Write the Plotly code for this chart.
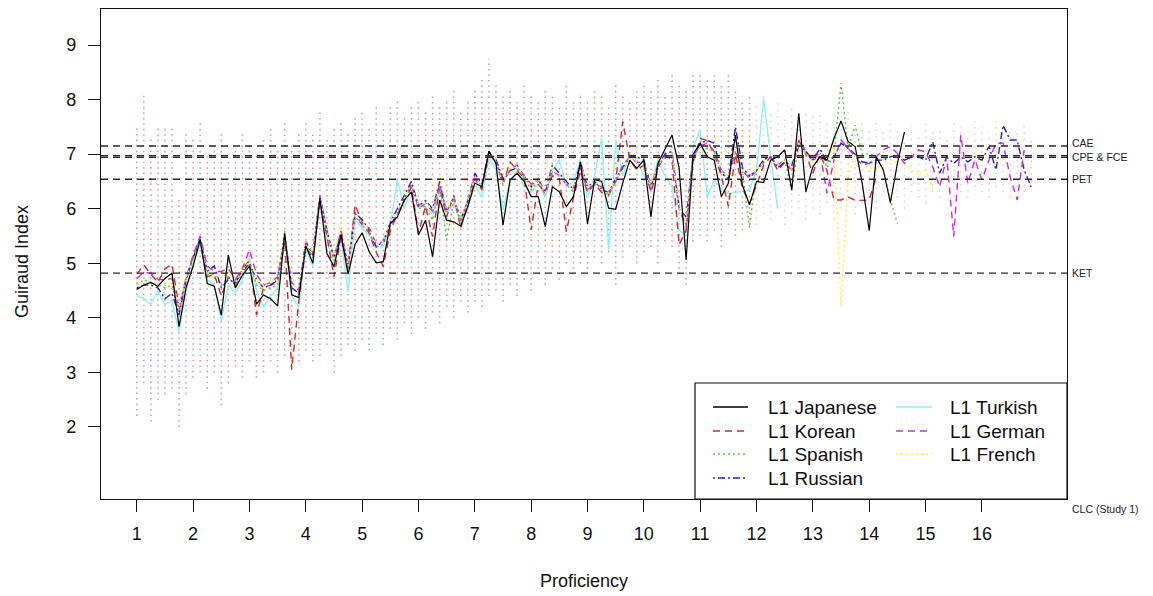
import plotly.graph_objects as go

# Proficiency: 16 levels x 8 units each
proficiency = [1 + i / 8 for i in range(128)]

japanese = [4.52,4.60,4.65,4.58,4.72,4.82,3.84,4.55, 4.95,5.43,4.63,4.58,4.05,5.15,4.55,4.78,
            4.95,4.25,4.42,4.35,4.22,5.55,4.42,4.37, 5.32,5.00,6.19,5.18,4.94,5.52,4.80,5.35,
            5.56,5.21,5.01,5.03,5.73,5.85,6.16,6.31, 5.52,5.79,5.12,6.16,5.79,5.76,5.68,6.04,
            6.47,6.40,7.05,6.83,5.70,6.53,6.65,6.50, 6.22,6.22,5.67,6.40,6.31,6.04,6.22,6.86,
            5.72,6.53,6.50,6.01,5.99,6.47,6.89,6.74, 6.89,5.85,6.83,7.08,7.35,6.75,5.06,7.00,
            7.20,6.95,6.89,6.22,6.47,7.35,6.43,6.07, 6.50,6.48,6.89,6.95,7.08,6.34,7.75,6.31,
            6.77,6.95,6.89,7.29,7.61,7.23,7.14,6.47, 5.60,6.95,6.71,6.11,6.83,7.41]

korean = [4.80,4.97,4.80,4.65,4.90,4.98,4.20,4.70, 5.10,5.40,4.75,4.80,4.40,4.75,4.60,4.90,
          5.05,4.05,4.55,4.60,4.65,5.45,3.05,4.30, 5.30,5.10,6.15,5.50,4.75,5.50,4.90,6.07,
          5.75,5.55,5.20,4.94,5.60,5.90,6.15,6.40, 5.55,6.05,5.49,6.40,5.85,6.25,5.64,6.10,
          6.55,6.35,7.00,6.85,6.45,6.86,6.70,6.55, 5.61,6.45,6.30,6.60,6.55,5.58,6.20,6.70,
          6.30,6.45,6.30,6.25,6.50,7.60,6.90,6.71, 6.80,6.30,6.75,6.98,6.90,5.34,5.60,6.85,
          7.29,7.25,7.00,6.60,6.04,7.00,6.37,6.10, 6.43,6.80,6.95,6.70,6.85,6.70,7.25,7.00,
          6.65,7.00,6.70,6.16,6.16,6.22,6.15,6.16, 6.16,6.59]

spanish = [4.60,4.70,4.65,4.60,4.55,4.60,4.10,4.70, 5.10,5.45,4.80,4.80,4.60,4.75,4.60,4.80,
           5.05,4.60,4.50,4.55,4.60,5.60,4.55,4.45, 5.35,5.10,6.20,5.55,5.05,5.60,4.90,5.85,
           5.70,5.55,5.30,5.35,5.70,5.90,6.15,6.45, 6.00,6.05,5.79,6.40,5.43,6.15,5.75,6.10,
           6.60,6.40,7.05,6.85,6.50,6.70,6.75,6.55, 6.35,6.50,6.25,6.70,6.60,6.45,6.30,6.80,
           6.35,6.45,6.35,6.25,6.50,6.75,6.95,6.85, 6.85,6.40,6.80,6.95,7.00,6.00,5.70,6.90,
           7.15,7.10,7.05,6.65,6.55,7.05,6.70,5.65, 6.70,6.90,6.95,6.80,6.90,6.34,7.20,7.00,
           6.90,7.10,6.75,7.00,8.30,7.10,7.53,7.00, 7.01,6.95,6.71,6.16,5.73]

russian = [4.55,4.60,4.60,4.55,4.35,4.45,4.05,4.70, 5.10,5.45,4.85,4.95,4.55,4.70,4.65,4.85,
           5.00,4.70,4.55,4.60,4.70,5.50,4.55,4.45, 5.40,5.15,6.22,5.60,5.10,5.55,4.95,5.92,
           5.80,5.60,5.30,5.40,5.75,6.00,6.25,6.50, 6.05,6.15,6.00,6.50,5.95,6.20,5.80,6.15,
           6.65,6.45,7.05,6.90,6.55,6.70,6.75,6.60, 6.40,6.55,6.30,6.80,6.65,6.50,6.35,6.85,
           6.40,6.50,6.35,6.30,6.55,6.75,6.95,6.95, 6.90,6.40,6.80,7.00,7.05,6.00,5.85,6.95,
           7.20,7.25,7.20,6.65,6.55,7.50,6.75,6.60, 6.70,6.90,6.95,6.75,6.85,6.80,7.15,7.05,
           6.90,7.10,6.85,6.95,7.20,7.11,7.00,6.86, 6.83,6.89,6.89,6.95,6.98,6.89,6.95,6.95,
           6.89,7.23,6.65,6.95,6.83,6.95,6.86,6.95, 6.89,7.14,6.71,7.53,7.26,7.26,6.71,6.40]

turkish = [4.40,4.35,4.25,4.50,4.25,4.30,3.75,4.50, 5.00,5.35,4.70,4.60,3.95,4.60,4.45,4.70,
           5.10,4.50,4.20,4.40,4.55,5.40,4.40,4.20, 5.25,4.95,6.10,5.40,5.00,5.45,4.48,5.80,
           5.65,5.50,5.30,5.30,5.70,6.53,6.00,6.40, 6.10,6.00,5.90,6.30,5.90,6.10,5.75,6.00,
           6.45,6.20,6.95,6.70,5.98,6.50,6.70,6.40, 6.30,6.45,6.20,6.70,6.90,6.40,6.50,6.90,
           6.20,6.60,7.30,5.24,7.25,6.60,7.00,6.90, 6.60,6.40,6.90,6.60,6.40,5.61,5.50,7.14,
           7.44,6.22,6.53,6.35,6.28,6.30,6.31,6.35, 6.70,8.02,6.95,6.00]

german = [4.72,4.83,4.82,4.70,4.70,4.72,4.15,4.75, 5.15,5.50,4.95,4.85,4.85,4.90,4.70,4.90,
          5.25,4.80,4.60,4.65,4.75,5.45,4.65,4.50, 5.40,5.20,6.25,5.60,5.10,5.60,4.95,5.92,
          5.70,5.65,5.35,5.40,5.70,5.90,6.20,6.45, 6.00,6.10,5.95,6.45,5.95,6.20,5.80,6.15,
          6.60,6.40,7.00,6.85,6.50,6.70,6.80,6.60, 6.45,6.55,6.25,6.70,6.60,6.45,6.35,6.75,
          6.35,6.45,6.40,6.30,6.50,6.80,6.95,6.85, 6.85,6.35,6.80,6.95,7.00,6.00,5.67,6.95,
          7.15,7.20,7.05,6.70,6.60,7.05,6.70,6.55, 6.70,6.85,6.95,6.80,6.90,6.70,7.26,7.05,
          6.85,7.05,6.28,6.90,7.26,7.11,6.95,6.80, 6.83,6.95,7.08,7.14,7.01,6.83,6.95,7.08,
          7.04,6.77,6.40,6.95,5.49,7.35,6.46,6.90, 6.53,6.89,7.20,7.20,6.59,6.16,7.08]

french = [4.60,4.65,4.55,4.70,4.60,4.65,4.20,4.75, 5.05,5.40,4.85,4.75,4.70,4.85,4.65,4.85,
          5.05,4.70,4.55,4.70,4.65,5.50,4.60,4.55, 5.40,5.20,6.20,5.60,5.10,5.79,4.95,5.90,
          5.75,5.60,5.35,5.40,5.75,5.95,6.20,6.45, 6.05,6.10,6.00,6.65,5.95,6.20,5.80,6.15,
          6.60,6.40,7.00,6.85,6.45,6.75,6.75,6.60, 6.40,6.55,6.25,6.75,6.60,6.45,6.35,6.80,
          6.40,6.50,6.35,6.30,6.55,6.70,6.95,6.85, 6.85,6.40,6.80,6.95,7.00,6.00,5.75,6.90,
          7.15,7.15,7.00,6.70,6.60,7.10,6.70,6.60, 6.70,6.85,6.90,6.80,6.90,6.70,7.20,7.00,
          6.85,7.00,6.80,7.20,4.20,6.60,7.00,6.80, 6.75,6.70,6.85,6.90,6.85,6.80,6.71,6.62,
          6.71,6.34]

# spread of individual learner scores at each unit (low / high end of the dot columns)
dot_lo = [2.2,2.8,2.1,2.5,2.6,2.7,2.0,2.6, 2.9,3.0,2.7,3.0,2.4,2.8,3.1,2.9,
          3.2,2.9,3.0,3.2,3.0,3.3,3.1,3.2, 3.4,3.2,3.3,3.5,3.0,3.3,3.5,3.4,
          3.6,3.4,3.7,3.5,3.8,3.6,3.9,3.7, 4.0,3.8,4.1,3.9,4.2,4.0,4.3,4.1,
          4.3,4.2,4.4,4.5,4.3,4.6,4.4,4.7, 4.5,4.8,4.6,4.9,4.7,5.0,4.8,5.0,
          4.9,5.1,5.0,5.2,4.6,5.1,5.3,5.0, 5.2,5.3,5.0,5.4,5.3,4.8,4.6,5.4,
          5.5,5.4,5.6,5.3,5.7,5.5,5.6,5.8, 5.7,5.9,5.8,6.0,5.7,5.9,6.0,5.8,
          6.0,5.9,6.1,5.8,6.0,6.2,5.9,6.1, 6.2,6.0,6.3,6.1,6.2,6.0,6.3,6.2,
          6.1,6.3,6.2,6.4,6.1,6.3,6.2,6.4, 6.3,6.2,6.4,6.3,6.2,6.4,6.3,6.5]
dot_hi = [7.5,8.1,7.3,7.5,7.5,7.5,6.2,7.4, 7.3,7.6,7.0,7.2,7.4,6.9,7.1,7.4,
          7.2,7.0,7.3,7.5,7.1,7.6,7.2,7.4, 7.6,7.4,7.8,7.3,7.5,7.6,7.4,7.7,
          7.8,7.5,7.9,7.6,7.9,8.0,7.7,7.9, 8.0,7.8,8.1,7.9,8.0,8.2,7.8,8.0,
          8.2,8.4,8.75,8.3,8.1,8.2,8.0,8.3, 8.1,8.0,8.2,8.1,7.9,8.3,8.0,8.1,
          8.0,8.2,8.1,7.9,8.3,8.1,8.0,8.2, 8.3,8.2,8.4,8.1,8.5,8.3,8.2,8.5,
          8.5,8.4,8.5,8.3,8.5,8.2,8.0,8.1, 7.9,8.1,7.8,8.0,7.7,7.9,7.6,7.8,
          7.7,7.8,7.6,7.9,7.7,7.8,7.5,7.6, 7.5,7.6,7.4,7.6,7.5,7.3,7.5,7.4,
          7.6,7.4,7.5,7.3,7.6,7.5,7.4,7.6, 7.5,7.4,7.6,7.3,7.5,7.4,7.6,7.3]

exam_names = ["CAE", "CPE", "FCE", "PET", "KET"]
exam_values = [7.15, 6.97, 6.94, 6.54, 4.82]

x_ticks = list(range(1, 17))
y_ticks = list(range(2, 10))

FONT = "Liberation Sans, Arial, sans-serif"
L, R, T, B = 101, 86, 9, 97
W, H = 1153, 596
PW, PH = W - L - R, H - T - B


def px(xp):
    return (xp - L) / PW


def py(yp):
    return (H - B - yp) / PH


fig = go.Figure()


def column_trace(ks, opacity, color, dash):
    xs, ys = [], []
    for k in ks:
        xs += [proficiency[k], proficiency[k], None]
        ys += [dot_lo[k], dot_hi[k], None]
    return go.Scatter(x=xs, y=ys, mode="lines", hoverinfo="skip", showlegend=False,
                      opacity=opacity, line=dict(color=color, width=1.5, dash=dash))


fig.add_trace(column_trace(range(0, 88), 0.5, "#d02424", "1.5px,4px"))
fig.add_trace(column_trace(range(0, 88), 0.35, "#70e8f0", "1.5px,9px"))
fig.add_trace(column_trace(range(88, 128), 0.25, "#d02424", "1.5px,5px"))

series = [
    ("L1 Turkish", turkish, "#8ef2f2", "solid", 1.4),
    ("L1 Korean", korean, "#d8262a", "7px,5px", 1.4),
    ("L1 Spanish", spanish, "#5cc048", "2px,3px", 1.4),
    ("L1 Russian", russian, "#2020d0", "2px,3px,7px,3px", 1.4),
    ("L1 German", german, "#c32ee0", "7px,5px", 1.4),
    ("L1 French", french, "#f4f04a", "2px,3px", 1.4),
    ("L1 Japanese", japanese, "#000000", "solid", 1.2),
]
for name, vals, color, dash, wd in series:
    fig.add_trace(go.Scatter(x=proficiency[:len(vals)], y=vals, mode="lines", name=name,
                             showlegend=False, line=dict(color=color, width=wd, dash=dash)))

shapes = []
for v in exam_values:
    shapes.append(dict(type="line", xref="x domain", x0=0, x1=1, yref="y", y0=v, y1=v,
                       line=dict(color="#2a2a2a", width=1.4, dash="7px,5px"), layer="above"))

annotations = []
label_pos = [("CAE", 7.15, 3), ("CPE & FCE", 6.955, 0), ("PET", 6.54, 0), ("KET", 4.82, 0)]
for text, v, ys in label_pos:
    annotations.append(dict(text=text, xref="paper", x=px(1070), yref="y", y=v, yshift=ys,
                            xanchor="left", yanchor="middle", showarrow=False,
                            font=dict(family=FONT, size=10.5, color="#222")))
annotations.append(dict(text="CLC (Study 1)", xref="paper", x=px(1070), yref="paper", y=py(509),
                        xanchor="left", yanchor="middle", showarrow=False,
                        font=dict(family=FONT, size=10.5, color="#222")))
annotations.append(dict(text="Guiraud Index", xref="paper", x=px(22), yref="paper", y=py(262),
                        textangle=-90, showarrow=False, xanchor="center", yanchor="middle",
                        font=dict(family=FONT, size=18, color="#111")))
annotations.append(dict(text="Proficiency", xref="paper", x=0.5, yref="paper", y=py(581),
                        showarrow=False, xanchor="center", yanchor="middle",
                        font=dict(family=FONT, size=18, color="#111")))

# manual legend (two columns)
shapes.append(dict(type="rect", xref="paper", yref="paper", x0=px(695), x1=px(1067),
                   y0=py(499), y1=py(383), line=dict(color="#111", width=1.2),
                   fillcolor="white", layer="above"))
legend_layout = [
    ("L1 Japanese", 0, 0), ("L1 Korean", 0, 1), ("L1 Spanish", 0, 2), ("L1 Russian", 0, 3),
    ("L1 Turkish", 1, 0), ("L1 German", 1, 1), ("L1 French", 1, 2),
]
style = {name: (color, dash) for name, _, color, dash, _w in series}
col_line = [(713, 748), (896, 932)]
col_text = [766, 948]
row_y = [407, 431, 454, 478]
for name, c, r in legend_layout:
    color, dash = style[name]
    shapes.append(dict(type="line", xref="paper", yref="paper", x0=px(col_line[c][0]),
                       x1=px(col_line[c][1]), y0=py(row_y[r]), y1=py(row_y[r]),
                       line=dict(color=color, width=1.5, dash=dash), layer="above"))
    annotations.append(dict(text=name, xref="paper", yref="paper", x=px(col_text[c]),
                            y=py(row_y[r]), xanchor="left", yanchor="middle", showarrow=False,
                            font=dict(family=FONT, size=19, color="#111")))

fig.update_layout(
    width=W, height=H, margin=dict(l=L, r=R, t=T, b=B),
    paper_bgcolor="white", plot_bgcolor="white", showlegend=False,
    shapes=shapes, annotations=annotations,
    font=dict(family=FONT, size=18, color="#111"),
)
fig.update_xaxes(range=[0.365, 17.51], tickvals=x_ticks, ticktext=[str(t) for t in x_ticks],
                 ticks="outside", ticklen=12, tickcolor="#111", showline=True, mirror=True,
                 linecolor="#111", linewidth=1.2, showgrid=False, zeroline=False,
                 tickfont=dict(family=FONT, size=18, color="#111"), ticklabelstandoff=6)
fig.update_yaxes(range=[0.68, 9.66], tickvals=y_ticks, ticktext=[str(t) for t in y_ticks],
                 ticks="outside", ticklen=12, tickcolor="#111", showline=True, mirror=True,
                 linecolor="#111", linewidth=1.2, showgrid=False, zeroline=False,
                 tickfont=dict(family=FONT, size=18, color="#111"), ticklabelstandoff=8)

fig.write_html("out.html")
